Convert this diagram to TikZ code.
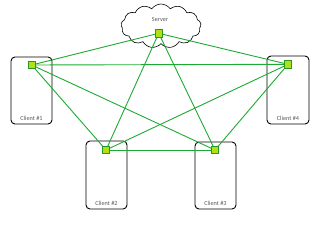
\documentclass[tikz,border=0pt]{standalone}
\usepackage{fontspec}
\setmainfont{Carlito}
\usetikzlibrary{shapes.symbols}

\definecolor{linkgreen}{RGB}{30,170,50}
\definecolor{portfill}{RGB}{175,225,20}
\definecolor{portedge}{RGB}{40,150,40}
\definecolor{labelgray}{RGB}{90,90,90}

\tikzset{
  client/.style={draw=black, line width=0.9pt, rounded corners=4pt, fill=white},
  port/.style={draw=portedge, fill=portfill, line width=0.6pt, minimum size=7.5pt, inner sep=0pt},
  link/.style={draw=linkgreen, line width=0.9pt},
  tag/.style={font=\upshape\fontsize{6.2}{7}\selectfont, text=labelgray, inner sep=0pt}
}

\begin{document}
\begin{tikzpicture}[x=1pt, y=-1pt]
\useasboundingbox (0,0) rectangle (320,224);

% Client boxes
\draw[client] (11,57) rectangle (52,124);
\draw[client] (267,56) rectangle (309,124);
\draw[client] (86,141) rectangle (127,209);
\draw[client] (195,142) rectangle (236,209);

% Labels
\node[tag] (t1) at (31.5,118) {Client \#1};
\node[tag] (t4) at (288,118) {Client \#4};
\node[tag] (t2) at (106.5,203) {Client \#2};
\node[tag] (t3) at (215.5,203) {Client \#3};

% Server cloud
\node[cloud, draw=black, fill=white, line width=0.6pt, cloud puffs=13, cloud puff arc=110,
  minimum width=80pt, minimum height=44pt, inner sep=0pt] (cloud) at (161,26) {};
\node[tag] (ts) at (160,20) {Server};

% Port centres
\coordinate (srv) at (158.7,33.3);
\coordinate (c1) at (31.7,65);
\coordinate (c4) at (288,64.3);
\coordinate (c2) at (106,150);
\coordinate (c3) at (215,150);

% Links
\foreach \a/\b in {srv/c1,srv/c2,srv/c3,srv/c4,c1/c4,c1/c2,c1/c3,c4/c2,c4/c3,c2/c3}
  \draw[link] (\a) -- (\b);

% Ports
\foreach \p in {srv,c1,c2,c3,c4}
  \node[port] (p-\p) at (\p) {};

\end{tikzpicture}
\end{document}
